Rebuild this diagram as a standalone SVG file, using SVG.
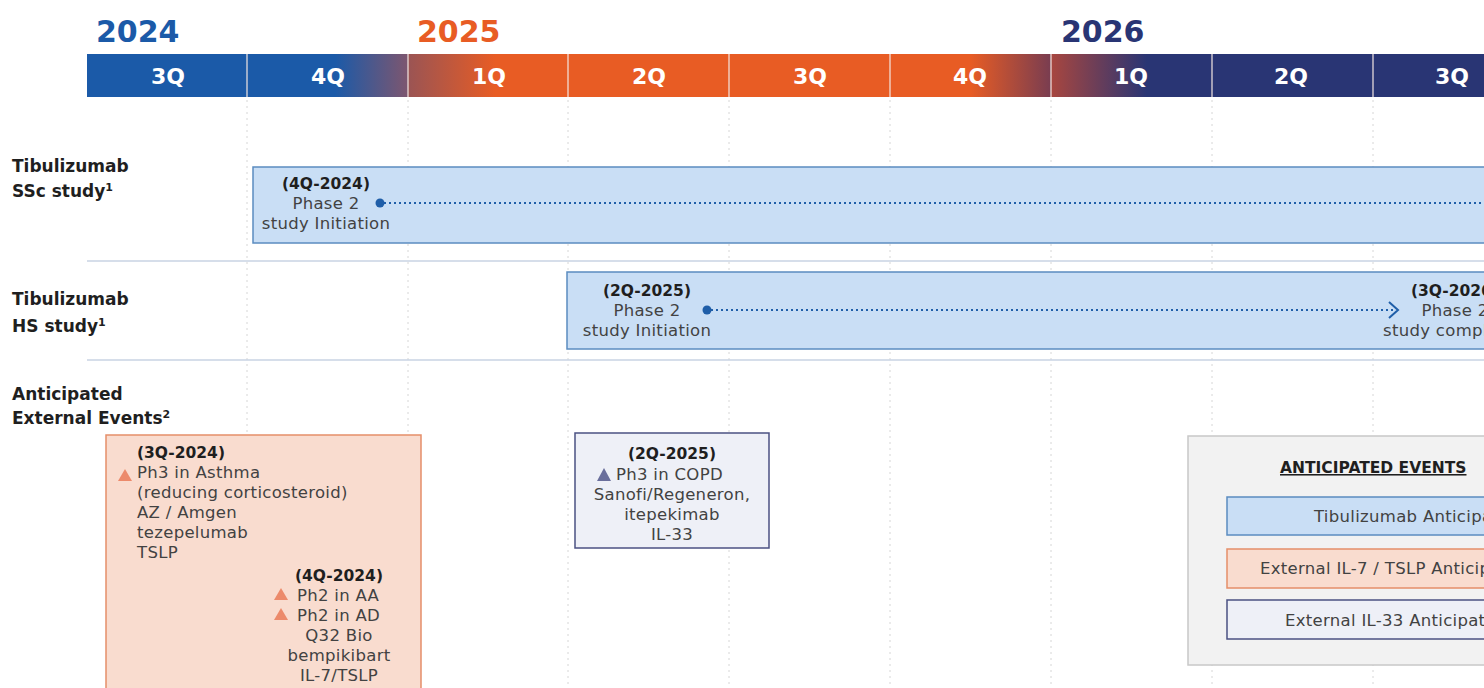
<svg xmlns="http://www.w3.org/2000/svg" width="1484" height="688" viewBox="0 0 1484 688">
  <defs>
    <style>
      .yr { font-family: "DejaVu Sans", "Liberation Sans", sans-serif; font-weight: 700; font-size: 30px; }
      .q { font-family: "DejaVu Sans", "Liberation Sans", sans-serif; font-weight: 700; font-size: 22px; fill: #ffffff; text-anchor: middle; }
      .row { font-family: "DejaVu Sans", "Liberation Sans", sans-serif; font-weight: 700; font-size: 17px; fill: #1f1f1f; }
      .t { font-family: "DejaVu Sans", "Liberation Sans", sans-serif; font-size: 16.5px; letter-spacing: 0.3px; fill: #424242; }
      .tb { font-family: "DejaVu Sans", "Liberation Sans", sans-serif; font-size: 15.5px; font-weight: 700; fill: #1f1f1f; }
      .c { text-anchor: middle; }
      .grid { stroke: #d6d6d6; stroke-width: 1; stroke-dasharray: 2 4; }
      .sep { stroke: #c9d3e3; stroke-width: 1.5; }
      .tib { fill: #c9def5; stroke: #5b8cc0; stroke-width: 1.5; }
      .ext7 { fill: #f9dccf; stroke: #e58e6a; stroke-width: 1.5; }
      .ext33 { fill: #eef0f7; stroke: #4b5183; stroke-width: 1.5; }
      .tri7 { fill: #ec8a6b; }
      .tri33 { fill: #6a6f9c; }
      .dots { stroke: #1f5ea8; stroke-width: 2; stroke-dasharray: 2 3; fill: none; }
    </style>
    <linearGradient id="g4q24" x1="247" y1="0" x2="407" y2="0" gradientUnits="userSpaceOnUse">
      <stop offset="0" stop-color="#1b5aa8"/>
      <stop offset="0.55" stop-color="#1b5aa8"/>
      <stop offset="1" stop-color="#7c5670"/>
    </linearGradient>
    <linearGradient id="g1q25" x1="408" y1="0" x2="567" y2="0" gradientUnits="userSpaceOnUse">
      <stop offset="0" stop-color="#9a5454"/>
      <stop offset="0.55" stop-color="#e85c24"/>
      <stop offset="1" stop-color="#e85c24"/>
    </linearGradient>
    <linearGradient id="g4q25" x1="890" y1="0" x2="1050" y2="0" gradientUnits="userSpaceOnUse">
      <stop offset="0" stop-color="#e85c24"/>
      <stop offset="0.5" stop-color="#e85c24"/>
      <stop offset="1" stop-color="#7a3d50"/>
    </linearGradient>
    <linearGradient id="g1q26" x1="1051" y1="0" x2="1211" y2="0" gradientUnits="userSpaceOnUse">
      <stop offset="0" stop-color="#a8463f"/>
      <stop offset="0.6" stop-color="#293574"/>
      <stop offset="1" stop-color="#293574"/>
    </linearGradient>
  </defs>

  <rect width="1484" height="688" fill="#ffffff"/>

  <!-- year headings -->
  <g id="years">
    <text class="yr" x="96" y="42" fill="#1b5aa8">2024</text>
    <text class="yr" x="417" y="42" fill="#e85c24">2025</text>
    <text class="yr" x="1061" y="42" fill="#293574">2026</text>
  </g>

  <!-- quarter bar -->
  <g id="quarters">
    <rect x="87" y="54" width="160" height="43" fill="#1b5aa8"/>
    <rect x="247" y="54" width="161" height="43" fill="url(#g4q24)"/>
    <rect x="408" y="54" width="160" height="43" fill="url(#g1q25)"/>
    <rect x="568" y="54" width="161" height="43" fill="#e85c24"/>
    <rect x="729" y="54" width="161" height="43" fill="#e85c24"/>
    <rect x="890" y="54" width="161" height="43" fill="url(#g4q25)"/>
    <rect x="1051" y="54" width="161" height="43" fill="url(#g1q26)"/>
    <rect x="1212" y="54" width="161" height="43" fill="#293574"/>
    <rect x="1373" y="54" width="111" height="43" fill="#293574"/>
    <g stroke="#f3e6e2" stroke-width="1.2">
      <line x1="247" y1="54" x2="247" y2="97"/>
      <line x1="408" y1="54" x2="408" y2="97"/>
      <line x1="568" y1="54" x2="568" y2="97"/>
      <line x1="729" y1="54" x2="729" y2="97"/>
      <line x1="890" y1="54" x2="890" y2="97"/>
      <line x1="1051" y1="54" x2="1051" y2="97"/>
      <line x1="1212" y1="54" x2="1212" y2="97"/>
      <line x1="1373" y1="54" x2="1373" y2="97"/>
    </g>
    <text class="q" x="168" y="84">3Q</text>
    <text class="q" x="328" y="84">4Q</text>
    <text class="q" x="489" y="84">1Q</text>
    <text class="q" x="649" y="84">2Q</text>
    <text class="q" x="810" y="84">3Q</text>
    <text class="q" x="970" y="84">4Q</text>
    <text class="q" x="1131" y="84">1Q</text>
    <text class="q" x="1291" y="84">2Q</text>
    <text class="q" x="1452" y="84">3Q</text>
  </g>

  <!-- quarter gridlines and row separators -->
  <g id="grid">
    <line class="grid" x1="247" y1="100" x2="247" y2="688"/>
    <line class="grid" x1="408" y1="100" x2="408" y2="688"/>
    <line class="grid" x1="568" y1="100" x2="568" y2="688"/>
    <line class="grid" x1="729" y1="100" x2="729" y2="688"/>
    <line class="grid" x1="890" y1="100" x2="890" y2="688"/>
    <line class="grid" x1="1051" y1="100" x2="1051" y2="688"/>
    <line class="grid" x1="1212" y1="100" x2="1212" y2="688"/>
    <line class="grid" x1="1373" y1="100" x2="1373" y2="688"/>
    <line class="sep" x1="87" y1="261" x2="1484" y2="261"/>
    <line class="sep" x1="87" y1="360" x2="1484" y2="360"/>
  </g>

  <!-- row labels -->
  <g id="labels">
    <text class="row" x="12" y="172">Tibulizumab</text>
    <text class="row" x="12" y="197">SSc study<tspan font-size="11" dy="-6">1</tspan></text>
    <text class="row" x="12" y="305">Tibulizumab</text>
    <text class="row" x="12" y="332">HS study<tspan font-size="11" dy="-6">1</tspan></text>
    <text class="row" x="12" y="400">Anticipated</text>
    <text class="row" x="12" y="424">External Events<tspan font-size="11" dy="-6">2</tspan></text>
  </g>

  <!-- SSc study bar -->
  <g id="ssc">
    <rect class="tib" x="253" y="167" width="1240" height="76"/>
    <text class="tb c" x="326" y="189">(4Q-2024)</text>
    <text class="t c" x="326" y="209">Phase 2</text>
    <text class="t c" x="326" y="229">study Initiation</text>
  </g>

  <!-- HS study bar -->
  <g id="hs">
    <rect class="tib" x="567" y="272" width="930" height="77"/>
    <text class="tb c" x="647" y="296">(2Q-2025)</text>
    <text class="t c" x="647" y="316">Phase 2</text>
    <text class="t c" x="647" y="336">study Initiation</text>
    <text class="tb c" x="1455" y="296">(3Q-2026)</text>
    <text class="t c" x="1455" y="316">Phase 2</text>
    <text class="t c" x="1457" y="336">study completion</text>
  </g>

  <!-- IL-7 / TSLP external events -->
  <g id="ext-il7">
    <rect class="ext7" x="106" y="435" width="315" height="270"/>
    <text class="tb" x="137" y="458">(3Q-2024)</text>
    <polygon class="tri7" points="125,469 132,481 118,481"/>
    <text class="t" x="137" y="478">Ph3 in Asthma</text>
    <text class="t" x="137" y="498">(reducing corticosteroid)</text>
    <text class="t" x="137" y="518">AZ / Amgen</text>
    <text class="t" x="137" y="538">tezepelumab</text>
    <text class="t" x="137" y="558">TSLP</text>
    <text class="tb c" x="339" y="581">(4Q-2024)</text>
    <polygon class="tri7" points="281,588 288,600 274,600"/>
    <text class="t" x="297" y="601">Ph2 in AA</text>
    <polygon class="tri7" points="281,608 288,620 274,620"/>
    <text class="t" x="297" y="621">Ph2 in AD</text>
    <text class="t c" x="339" y="641">Q32 Bio</text>
    <text class="t c" x="339" y="661">bempikibart</text>
    <text class="t c" x="339" y="681">IL-7/TSLP</text>
  </g>

  <!-- IL-33 external event -->
  <g id="ext-il33">
    <rect class="ext33" x="575" y="433" width="194" height="115"/>
    <text class="tb c" x="672" y="459">(2Q-2025)</text>
    <polygon class="tri33" points="604,468 611,481 597,481"/>
    <text class="t" x="616" y="480">Ph3 in COPD</text>
    <text class="t c" x="672" y="500">Sanofi/Regeneron,</text>
    <text class="t c" x="672" y="520">itepekimab</text>
    <text class="t c" x="672" y="540">IL-33</text>
  </g>

  <!-- legend -->
  <g id="legend">
    <rect x="1188" y="436" width="310" height="229" fill="#f2f2f2" stroke="#c8c8c8" stroke-width="1.5"/>
    <text class="tb" x="1280" y="473" font-size="18.5" text-decoration="underline" fill="#333333">ANTICIPATED EVENTS</text>
    <rect class="tib" x="1227" y="497" width="270" height="38"/>
    <text class="t" x="1314" y="522">Tibulizumab Anticipated</text>
    <rect class="ext7" x="1227" y="549" width="270" height="39"/>
    <text class="t" x="1260" y="574">External IL-7 / TSLP Anticipated</text>
    <rect class="ext33" x="1227" y="600" width="270" height="39"/>
    <text class="t" x="1285" y="626">External IL-33 Anticipated</text>
  </g>

  <!-- timeline connectors -->
  <g id="connectors">
    <line class="dots" x1="384" y1="203" x2="1484" y2="203"/>
    <circle cx="380" cy="203" r="4.5" fill="#1f5ea8"/>
    <line class="dots" x1="711" y1="310" x2="1394" y2="310"/>
    <circle cx="707" cy="310" r="4.5" fill="#1f5ea8"/>
    <polyline points="1389,302 1398,310 1389,318" fill="none" stroke="#1f5ea8" stroke-width="2"/>
  </g>
</svg>
